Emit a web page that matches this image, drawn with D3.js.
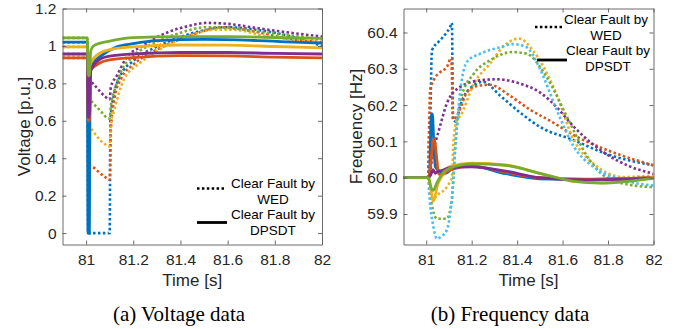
<!DOCTYPE html>
<html>
<head>
<meta charset="utf-8">
<script src="https://cdn.jsdelivr.net/npm/d3@7"></script>
<style>
  body { margin: 0; background: #fff; }
  svg { display: block; }
  .tick text { font-family: "Liberation Sans", Arial, sans-serif; fill: #262626; }
</style>
</head>
<body>
<svg id="chart" width="683" height="329"></svg>
<script>
// matlab default colours
let cBlue = "#0072BD", cRed = "#D95319", cYellow = "#EDB120",
    cPurple = "#7E2F8E", cGreen = "#77AC30", cCyan = "#4DBEEE";

let timeTicks = [81, 81.2, 81.4, 81.6, 81.8, 82];
let voltTicks = [0, 0.2, 0.4, 0.6, 0.8, 1, 1.2];
let freqTicks = [59.9, 60.0, 60.1, 60.2, 60.3, 60.4];
let legendText = [["Clear Fault by", "WED"], ["Clear Fault by", "DPSDT"]];

// voltage, fault cleared by WED (dotted)  [time, p.u.]
let vWedBlue = [[80.9,1.02],[81.005,1.02],[81.009,0],[81.1,0],[81.103,0.6],[81.12,0.75],[81.145,0.84],[81.2,0.92],[81.29,0.99],[81.37,1.034],[81.48,1.078],[81.6,1.1],[81.7,1.09],[81.8,1.07],[81.9,1.04],[82,1.0]];
let vWedRed = [[80.9,0.936],[81.005,0.936],[81.012,0.36],[81.025,0.356],[81.05,0.33],[81.08,0.3],[81.1,0.285],[81.105,0.55],[81.12,0.72],[81.15,0.83],[81.2,0.9],[81.3,0.98],[81.45,1.06],[81.58,1.1],[81.7,1.08],[81.85,1.04],[82,1.02]];
let vWedYellow = [[80.9,0.995],[81.005,0.995],[81.012,0.57],[81.02,0.56],[81.05,0.51],[81.08,0.475],[81.1,0.463],[81.105,0.58],[81.12,0.66],[81.16,0.82],[81.23,0.91],[81.31,0.98],[81.43,1.05],[81.55,1.087],[81.62,1.087],[81.77,1.05],[81.9,1.03],[82,1.02]];
let vWedPurple = [[80.9,0.957],[81.005,0.957],[81.012,0.83],[81.017,0.82],[81.05,0.77],[81.08,0.73],[81.1,0.715],[81.105,0.78],[81.13,0.84],[81.17,0.935],[81.24,1.0],[81.34,1.07],[81.43,1.105],[81.51,1.123],[81.6,1.118],[81.71,1.098],[81.82,1.078],[81.9,1.065],[82,1.05]];
let vWedGreen = [[80.9,1.043],[81.005,1.043],[81.012,0.74],[81.017,0.72],[81.033,0.69],[81.06,0.655],[81.09,0.615],[81.1,0.612],[81.105,0.68],[81.12,0.76],[81.145,0.855],[81.2,0.945],[81.29,1.016],[81.4,1.07],[81.51,1.1],[81.6,1.096],[81.77,1.07],[81.9,1.05],[82,1.034]];

// voltage, fault cleared by DPSDT (solid)
let vDpBlue = [[80.9,1.02],[81.005,1.02],[81.008,0],[81.014,0],[81.017,0.88],[81.03,0.91],[81.06,0.944],[81.13,0.995],[81.2,1.012],[81.3,1.028],[81.5,1.035],[81.7,1.03],[81.85,1.022],[82,1.015]];
let vDpRed = [[80.9,0.936],[81.005,0.936],[81.009,0.6],[81.014,0.6],[81.02,0.87],[81.06,0.91],[81.1,0.925],[81.2,0.938],[81.4,0.948],[81.6,0.947],[81.8,0.94],[82,0.936]];
let vDpYellow = [[80.9,0.995],[81.005,0.995],[81.009,0.88],[81.014,0.88],[81.02,0.91],[81.06,0.963],[81.1,0.98],[81.2,0.995],[81.4,1.005],[81.6,1.004],[81.8,0.997],[82,0.99]];
let vDpPurple = [[80.9,0.957],[81.005,0.957],[81.009,0.62],[81.014,0.62],[81.02,0.87],[81.06,0.93],[81.1,0.945],[81.2,0.957],[81.4,0.965],[81.6,0.965],[81.8,0.96],[82,0.957]];
let vDpGreen = [[80.9,1.043],[81.005,1.043],[81.009,0.84],[81.014,0.845],[81.02,0.975],[81.03,0.998],[81.06,1.015],[81.1,1.026],[81.2,1.044],[81.4,1.05],[81.6,1.05],[81.8,1.045],[82,1.04]];

// frequency, WED (dotted)  [time, Hz]
let fWedBlue = [[80.9,60],[81.008,60],[81.012,60.1],[81.018,60.176],[81.025,60.35],[81.06,60.378],[81.09,60.4],[81.105,60.415],[81.113,60.426],[81.118,60.16],[81.13,60.155],[81.15,60.2],[81.2,60.25],[81.25,60.264],[81.325,60.226],[81.41,60.181],[81.5,60.14],[81.65,60.103],[81.79,60.066],[82,60.034]];
let fWedRed = [[80.9,60],[81.008,60],[81.013,60.15],[81.017,60.24],[81.032,60.268],[81.06,60.29],[81.091,60.305],[81.11,60.33],[81.118,60.16],[81.135,60.17],[81.18,60.236],[81.22,60.252],[81.28,60.256],[81.37,60.225],[81.46,60.186],[81.55,60.155],[81.65,60.117],[81.8,60.075],[82,60.034]];
let fWedYellow = [[80.9,60],[81.008,60],[81.02,59.96],[81.03,59.94],[81.047,59.951],[81.09,59.974],[81.105,59.99],[81.113,60.0],[81.12,60.1],[81.135,60.158],[81.15,60.17],[81.21,60.259],[81.28,60.314],[81.355,60.37],[81.41,60.383],[81.47,60.35],[81.56,60.25],[81.65,60.103],[81.735,60.039],[81.87,60.002],[82,60.006]];
let fWedPurple = [[80.9,60],[81.01,60],[81.03,60.07],[81.06,60.14],[81.091,60.205],[81.149,60.25],[81.237,60.268],[81.311,60.271],[81.413,60.259],[81.5,60.235],[81.58,60.19],[81.65,60.14],[81.79,60.066],[81.9,60.03],[82,60.011]];
let fWedGreen = [[80.9,60],[81.008,60],[81.017,59.956],[81.03,59.91],[81.047,59.887],[81.09,59.887],[81.113,59.94],[81.12,60.0],[81.127,60.075],[81.15,60.213],[81.21,60.287],[81.28,60.323],[81.38,60.346],[81.44,60.342],[81.53,60.277],[81.62,60.167],[81.71,60.057],[81.79,60.002],[81.9,59.98],[82,59.974]];
let fWedCyan = [[80.9,60],[81.008,60],[81.015,59.94],[81.03,59.87],[81.047,59.832],[81.07,59.84],[81.09,59.855],[81.105,59.9],[81.115,59.96],[81.125,60.06],[81.135,60.14],[81.15,60.24],[81.18,60.32],[81.24,60.342],[81.33,60.36],[81.38,60.368],[81.44,60.36],[81.5,60.3],[81.575,60.185],[81.65,60.085],[81.735,60.03],[81.87,59.993],[82,59.978]];

// frequency, DPSDT (solid)
let fDpBlue = [[80.9,60],[81.008,60],[81.015,60.01],[81.022,60.17],[81.027,60.176],[81.033,60.1],[81.04,60.03],[81.054,60.02],[81.07,60.011],[81.09,60.013],[81.12,60.028],[81.2,60.032],[81.35,60.011],[81.5,59.997],[81.7,59.995],[82,60.0]];
let fDpRed = [[80.9,60],[81.01,60],[81.02,60.04],[81.03,60.1],[81.036,60.107],[81.045,60.06],[81.055,60.01],[81.07,60.008],[81.1,60.02],[81.2,60.032],[81.35,60.015],[81.5,60.0],[81.7,59.996],[82,60.0]];
let fDpYellow = [[80.9,60],[81.01,60],[81.02,59.97],[81.03,59.935],[81.035,59.94],[81.05,59.98],[81.07,60.005],[81.1,60.03],[81.2,60.04],[81.35,60.035],[81.5,60.012],[81.65,59.99],[81.77,59.986],[82,60.0]];
let fDpPurple = [[80.9,60],[81.01,60],[81.02,60.008],[81.03,60.022],[81.04,60.012],[81.05,60.017],[81.07,60.02],[81.1,60.027],[81.2,60.03],[81.35,60.018],[81.5,60.0],[81.7,59.994],[82,59.998]];
let fDpGreen = [[80.9,60],[81.01,60],[81.02,59.975],[81.03,59.965],[81.05,59.99],[81.07,60.01],[81.1,60.025],[81.2,60.038],[81.35,60.034],[81.5,60.012],[81.65,59.99],[81.77,59.985],[82,59.998]];

let svg = d3.select("#chart");
let fontSans = "'Liberation Sans', Arial, sans-serif";
let dots = "2.5,2.4";

function drawPanel(opt) {
    let x = d3.scaleLinear().domain([80.9, 82]).range([opt.x1, opt.x2]);
    let y = d3.scaleLinear().domain(opt.yDomain).range([opt.y2, opt.y1]);
    let g = svg.append("g");

    g.append("clipPath").attr("id", opt.id + "clip")
        .append("rect")
        .attr("x", opt.x1).attr("y", opt.y1)
        .attr("width", opt.x2 - opt.x1).attr("height", opt.y2 - opt.y1);

    let line = d3.line()
        .x(d => x(d[0]))
        .y(d => y(d[1]))
        .curve(d3.curveMonotoneX);

    let lines = g.append("g").attr("clip-path", "url(#" + opt.id + "clip)");
    lines.selectAll("path.wed")
        .data(opt.dotted)
        .enter().append("path")
        .attr("class", "wed")
        .attr("d", d => line(d.pts))
        .attr("fill", "none")
        .attr("stroke", d => d.color)
        .attr("stroke-width", 2.6)
        .attr("stroke-dasharray", dots);
    lines.selectAll("path.dp")
        .data(opt.solid)
        .enter().append("path")
        .attr("class", "dp")
        .attr("d", d => line(d.pts))
        .attr("fill", "none")
        .attr("stroke", d => d.color)
        .attr("stroke-width", 2.8);

    // box with inward ticks on all four sides
    let bottom = d3.axisBottom(x).tickValues(timeTicks).tickFormat(d3.format("~g"))
        .tickSizeInner(-4).tickSizeOuter(0).tickPadding(9);
    let top = d3.axisTop(x).tickValues(timeTicks).tickFormat("")
        .tickSizeInner(-4).tickSizeOuter(0);
    let left = d3.axisLeft(y).tickValues(opt.yTicks).tickFormat(opt.yFormat)
        .tickSizeInner(-4).tickSizeOuter(0).tickPadding(6);
    let right = d3.axisRight(y).tickValues(opt.yTicks).tickFormat("")
        .tickSizeInner(-4).tickSizeOuter(0);

    let axes = [
        [bottom, "translate(0," + opt.y2 + ")"],
        [top, "translate(0," + opt.y1 + ")"],
        [left, "translate(" + opt.x1 + ",0)"],
        [right, "translate(" + opt.x2 + ",0)"]
    ];
    axes.forEach(a => {
        let ag = g.append("g").attr("transform", a[1]).call(a[0]);
        ag.selectAll("path, line").attr("stroke", "#5a5a5a").attr("stroke-width", 0.9);
        ag.selectAll("text").style("font-size", "15.5px").attr("fill", "#262626");
    });

    g.append("text")
        .attr("x", (opt.x1 + opt.x2) / 2).attr("y", 286)
        .attr("text-anchor", "middle")
        .style("font-family", fontSans).style("font-size", "17px").attr("fill", "#262626")
        .text("Time [s]");
    g.append("text")
        .attr("transform", "translate(" + opt.yLabelX + "," + ((opt.y1 + opt.y2) / 2) + ") rotate(-90)")
        .attr("text-anchor", "middle")
        .style("font-family", fontSans).style("font-size", "17px").attr("fill", "#262626")
        .text(opt.yLabel);

    // legend
    let lg = g.append("g");
    opt.legend.forEach((L, i) => {
        lg.append("line")
            .attr("x1", L.lx1).attr("x2", L.lx2).attr("y1", L.ly).attr("y2", L.ly)
            .attr("stroke", "#000")
            .attr("stroke-width", i == 0 ? 2.6 : 2.8)
            .attr("stroke-dasharray", i == 0 ? dots : null);
        legendText[i].forEach((t, j) => {
            lg.append("text")
                .attr("x", L.tx).attr("y", L.ty + j * 16)
                .attr("text-anchor", "middle")
                .style("font-family", fontSans).style("font-size", "13.5px").attr("fill", "#000")
                .text(t);
        });
    });

    svg.append("text")
        .attr("x", opt.capX).attr("y", 321)
        .attr("text-anchor", "middle")
        .style("font-family", "'Liberation Serif', 'Times New Roman', serif").style("font-size", "21px")
        .attr("fill", "#000")
        .text(opt.caption);
}

drawPanel({
    id: "volt",
    x1: 62.5, x2: 322, y1: 8.5, y2: 244.5,
    yDomain: [-0.061, 1.2],
    yTicks: voltTicks,
    yFormat: d3.format("~g"),
    yLabel: "Voltage [p.u.]",
    yLabelX: 30,
    dotted: [
        {color: cBlue, pts: vWedBlue}, {color: cRed, pts: vWedRed}, {color: cYellow, pts: vWedYellow},
        {color: cPurple, pts: vWedPurple}, {color: cGreen, pts: vWedGreen}
    ],
    solid: [
        {color: cBlue, pts: vDpBlue}, {color: cRed, pts: vDpRed}, {color: cYellow, pts: vDpYellow},
        {color: cPurple, pts: vDpPurple}, {color: cGreen, pts: vDpGreen}
    ],
    legend: [
        {lx1: 197, lx2: 224, ly: 188.5, tx: 273, ty: 188},
        {lx1: 197, lx2: 227, ly: 222.5, tx: 273, ty: 219}
    ],
    caption: "(a) Voltage data",
    capX: 179
});

drawPanel({
    id: "freq",
    x1: 403.5, x2: 653.5, y1: 8.5, y2: 244.5,
    yDomain: [59.816, 60.466],
    yTicks: freqTicks,
    yFormat: d3.format(".1f"),
    yLabel: "Frequency [Hz]",
    yLabelX: 362,
    dotted: [
        {color: cBlue, pts: fWedBlue}, {color: cRed, pts: fWedRed}, {color: cYellow, pts: fWedYellow},
        {color: cPurple, pts: fWedPurple}, {color: cGreen, pts: fWedGreen}, {color: cCyan, pts: fWedCyan}
    ],
    solid: [
        {color: cBlue, pts: fDpBlue}, {color: cRed, pts: fDpRed}, {color: cYellow, pts: fDpYellow},
        {color: cPurple, pts: fDpPurple}, {color: cGreen, pts: fDpGreen}
    ],
    legend: [
        {lx1: 535, lx2: 562, ly: 27, tx: 606, ty: 24},
        {lx1: 537, lx2: 567, ly: 60, tx: 608, ty: 55}
    ],
    caption: "(b) Frequency data",
    capX: 510
});
</script>
</body>
</html>
